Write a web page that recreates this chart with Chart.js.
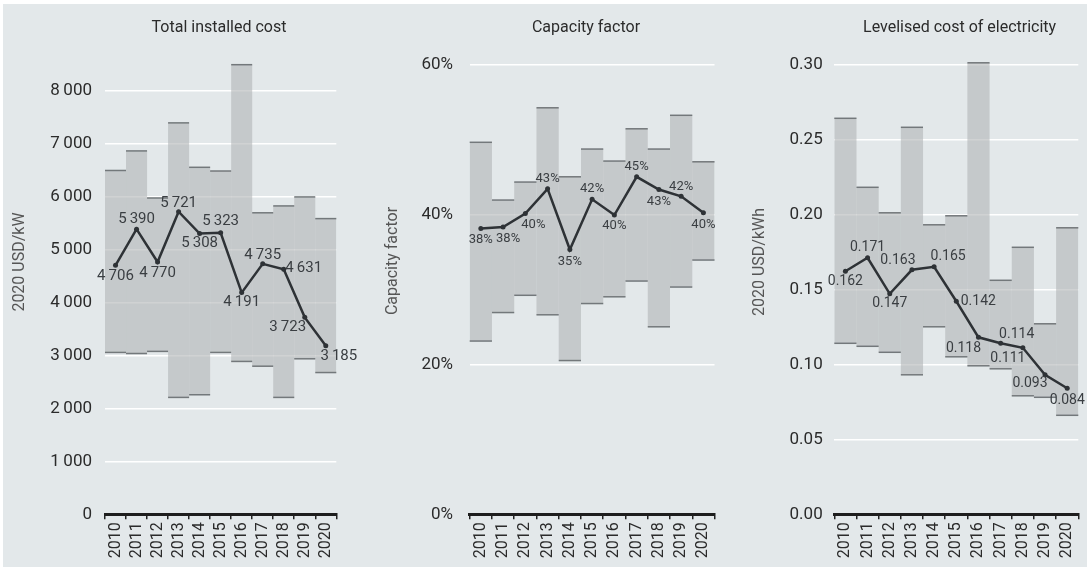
<!DOCTYPE html>
<html>
<head>
<meta charset="utf-8">
<script src="https://cdn.jsdelivr.net/npm/chart.js@4.4.1/dist/chart.umd.min.js"></script>
<style>
  body { margin: 0; background: #fff; font-family: Roboto, sans-serif; }
  #fondo { position: absolute; left: 3px; top: 4px; width: 1084px; height: 563px; background: #e3e8ea; }
  canvas { position: absolute; top: 0; }
</style>
</head>
<body>
<div id="fondo"></div>
<canvas id="grafica-costo" width="363" height="570" style="left:0"></canvas>
<canvas id="grafica-factor" width="363" height="570" style="left:363px"></canvas>
<canvas id="grafica-lcoe" width="364" height="570" style="left:726px"></canvas>
<script>
const anios = ['2010', '2011', '2012', '2013', '2014', '2015', '2016', '2017', '2018', '2019', '2020'];

// Total installed cost (2020 USD/kW)
const costoMin = [3060, 3040, 3080, 2210, 2260, 3060, 2890, 2800, 2210, 2940, 2680];
const costoMax = [6500, 6870, 5980, 7400, 6560, 6490, 8500, 5700, 5830, 6000, 5590];
const costoMedio = [4706, 5390, 4770, 5721, 5308, 5323, 4191, 4735, 4631, 3723, 3185];
const costoTicks = [0, 1000, 2000, 3000, 4000, 5000, 6000, 7000, 8000];

// Capacity factor (%)
const factorMin = [23.1, 26.9, 29.2, 26.6, 20.5, 28.1, 29.0, 31.1, 25.0, 30.3, 33.9];
const factorMax = [49.6, 41.9, 44.3, 54.2, 45.0, 48.7, 47.1, 51.4, 48.7, 53.2, 47.0];
const factorMedio = [38.1, 38.3, 40.1, 43.4, 35.3, 42.0, 39.9, 45.0, 43.3, 42.4, 40.2];
const factorTicks = [0, 20, 40, 60];

// Levelised cost of electricity (2020 USD/kWh)
const lcoeMin = [0.114, 0.112, 0.108, 0.093, 0.125, 0.105, 0.099, 0.097, 0.079, 0.078, 0.066];
const lcoeMax = [0.264, 0.218, 0.201, 0.258, 0.193, 0.199, 0.301, 0.156, 0.178, 0.127, 0.191];
const lcoeMedio = [0.162, 0.171, 0.147, 0.163, 0.165, 0.142, 0.118, 0.114, 0.111, 0.093, 0.084];
const lcoeTicks = [0, 0.05, 0.10, 0.15, 0.20, 0.25, 0.30];

// desplazamiento de cada etiqueta respecto a su punto
const offCosto = [[0, 11], [0, -10], [0, 11], [0, -8], [0, 10], [0, -11], [0, 10], [0, -9], [20, -1], [-17, 10], [13, 10]];
const offFactor = [[0, 11], [5, 12], [8, 11], [0, -10], [0, 12], [0, -11], [0, 11], [0, -10], [0, 12], [0, -10], [0, 12]];
const offLcoe = [[0, 10], [0, -10], [0, 10], [-14, -9], [14, -10], [22, 0], [-15, 11], [16, -9], [-15, 11], [-15, 9], [0, 12]];

const miles = v => v >= 1000 ? Math.floor(v / 1000) + '\u2009' + String(v % 1000).padStart(3, '0') : String(v);

const textosPanel = {
    id: 'textosPanel',
    afterDraw(chart, args, o) {
        const ctx = chart.ctx;
        ctx.save();
        ctx.textAlign = 'center';
        ctx.textBaseline = 'middle';
        ctx.fillStyle = '#2b2b2b';
        ctx.font = '16px Roboto';
        ctx.fillText(o.titulo, o.tituloX, 28);
        ctx.translate(o.ejeX, o.ejeY);
        ctx.rotate(-Math.PI / 2);
        ctx.fillStyle = '#555';
        ctx.fillText(o.eje, 0, 0);
        ctx.restore();
    }
};

// lineas de arriba y abajo de cada barra (sin bordes verticales)
const bordesBarra = {
    id: 'bordesBarra',
    afterDatasetDraw(chart, args) {
        if (args.index !== 1) return;
        const ctx = chart.ctx;
        ctx.save();
        ctx.strokeStyle = '#73787b';
        ctx.lineWidth = 1.5;
        args.meta.data.forEach(b => {
            const izq = b.x - b.width / 2;
            const der = b.x + b.width / 2;
            [b.y, b.base].forEach(y => {
                ctx.beginPath();
                ctx.moveTo(izq, y);
                ctx.lineTo(der, y);
                ctx.stroke();
            });
        });
        ctx.restore();
    }
};

const etiquetas = {
    id: 'etiquetas',
    afterDatasetsDraw(chart, args, o) {
        const ctx = chart.ctx;
        const meta = chart.getDatasetMeta(0);
        const valores = chart.data.datasets[0].data;
        ctx.save();
        ctx.textAlign = 'center';
        ctx.textBaseline = 'middle';
        ctx.fillStyle = '#3a3e42';
        ctx.font = o.tam + 'px Roboto';
        meta.data.forEach((p, i) => {
            ctx.fillText(o.formato(valores[i]), p.x + o.off[i][0], p.y + o.off[i][1]);
        });
        ctx.restore();
    }
};

function crearPanel(id, p) {
    const ctx = document.getElementById(id).getContext('2d');
    return new Chart(ctx, {
        type: 'bar',
        data: {
            labels: anios,
            datasets: [{
                type: 'line',
                data: p.medio,
                borderColor: '#2e3236',
                borderWidth: 2.5,
                pointRadius: 2.5,
                pointBackgroundColor: '#2e3236',
                pointBorderWidth: 0,
                tension: 0,
                order: 0
            }, {
                data: anios.map((a, i) => [p.min[i], p.max[i]]),
                backgroundColor: 'rgba(176,180,182,0.6)',
                borderWidth: 0,
                inflateAmount: 0,
                barPercentage: 1,
                categoryPercentage: 1,
                order: 1
            }]
        },
        options: {
            responsive: false,
            animation: false,
            devicePixelRatio: 1,
            layout: { padding: { top: p.arriba, right: p.derecha, left: 0, bottom: 0 } },
            plugins: {
                legend: { display: false },
                tooltip: { enabled: false },
                textosPanel: p.textos,
                etiquetas: { off: p.off, formato: p.formato, tam: p.tamEtiqueta }
            },
            scales: {
                x: {
                    afterFit: s => { s.height = 55.7; },
                    grid: { offset: true, drawOnChartArea: false, drawTicks: true, tickLength: 5, color: '#222', lineWidth: 1.5 },
                    border: { display: true, color: '#1e1e1e', width: 3 },
                    ticks: { maxRotation: 90, minRotation: 90, autoSkip: false, padding: 3, color: '#2b2b2b', font: { family: 'Roboto', size: 16 } }
                },
                y: {
                    min: 0,
                    max: p.maxY,
                    afterBuildTicks: s => { s.ticks = p.ticks.map(v => ({ value: v })); },
                    afterFit: s => { s.width = p.anchoEje; },
                    grid: { color: c => c.tick && c.tick.value === 0 ? 'rgba(0,0,0,0)' : '#ffffff', lineWidth: 1.5, drawTicks: false },
                    border: { display: false },
                    ticks: { padding: p.pad, color: '#2b2b2b', font: { family: 'Roboto', size: 17 }, callback: p.formatoEje }
                }
            }
        },
        plugins: [textosPanel, bordesBarra, etiquetas]
    });
}

// Total installed cost
crearPanel('grafica-costo', {
    min: costoMin, max: costoMax, medio: costoMedio, ticks: costoTicks,
    maxY: 8600, arriba: 59.4, derecha: 26.7, anchoEje: 105, pad: 13,
    off: offCosto, formato: miles, formatoEje: v => miles(v), tamEtiqueta: 15,
    textos: { titulo: 'Total installed cost', tituloX: 219, eje: '2020 USD/kW', ejeX: 20, ejeY: 262 }
});

// Capacity factor
crearPanel('grafica-factor', {
    min: factorMin, max: factorMax, medio: factorMedio, ticks: factorTicks,
    maxY: 60, arriba: 64.3, derecha: 8.7, anchoEje: 106.7, pad: 16.7,
    off: offFactor, formato: v => Math.round(v) + '%', formatoEje: v => v + '%', tamEtiqueta: 13,
    textos: { titulo: 'Capacity factor', tituloX: 223, eje: 'Capacity factor', ejeX: 30, ejeY: 261 }
});

// Levelised cost of electricity
crearPanel('grafica-lcoe', {
    min: lcoeMin, max: lcoeMax, medio: lcoeMedio, ticks: lcoeTicks,
    maxY: 0.305, arriba: 56.8, derecha: 11.7, anchoEje: 108.3, pad: 11.6,
    off: offLcoe, formato: v => v.toFixed(3), formatoEje: v => v.toFixed(2), tamEtiqueta: 14,
    textos: { titulo: 'Levelised cost of electricity', tituloX: 233.6, eje: '2020 USD/kWh', ejeX: 33.5, ejeY: 262 }
});
</script>
</body>
</html>
